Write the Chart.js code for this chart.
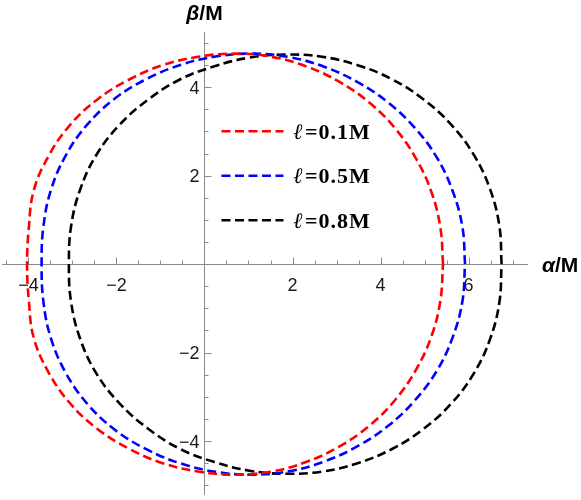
<!DOCTYPE html>
<html><head><meta charset="utf-8">
<script src="https://cdn.jsdelivr.net/npm/chart.js@4/dist/chart.umd.min.js"></script>
<style>html,body{margin:0;padding:0;background:#fff}#wrap{width:581px;height:500px;position:relative}</style>
</head><body><div id="wrap"><canvas id="c"></canvas></div>
<script>
// ---- data ----
const seriesLabels = ['\u2113=0.1M', '\u2113=0.5M', '\u2113=0.8M'];
const seriesColors = ['#ff0000', '#0000ff', '#000000'];

const redAlpha = [5.42,5.36,5.16,4.81,4.34,3.75,3.07,2.32,1.52,0.69,-0.14,-0.95,-1.72,-2.44,-3.06,-3.54,-3.88,-3.99,-4.03,
                  -3.99,-3.88,-3.54,-3.06,-2.44,-1.72,-0.95,-0.14,0.69,1.52,2.32,3.07,3.75,4.34,4.81,5.16,5.36,5.42];
const redBeta  = [0.00,0.82,1.62,2.38,3.06,3.65,4.12,4.47,4.69,4.76,4.69,4.50,4.17,3.72,3.14,2.45,1.66,0.83,0.00,
                  -0.83,-1.66,-2.45,-3.14,-3.72,-4.17,-4.50,-4.69,-4.76,-4.69,-4.47,-4.12,-3.65,-3.06,-2.38,-1.62,-0.82,0.00];

const blueAlpha = [5.92,5.86,5.64,5.28,4.78,4.18,3.49,2.73,1.94,1.11,0.28,-0.53,-1.31,-2.03,-2.66,-3.15,-3.49,-3.66,-3.70,
                   -3.66,-3.49,-3.15,-2.66,-2.03,-1.31,-0.53,0.28,1.11,1.94,2.73,3.49,4.18,4.78,5.28,5.64,5.86,5.92];
const blueBeta  = [0.00,0.84,1.65,2.41,3.08,3.65,4.11,4.46,4.68,4.76,4.70,4.51,4.19,3.75,3.16,2.46,1.67,0.84,0.00,
                   -0.84,-1.67,-2.46,-3.16,-3.75,-4.19,-4.51,-4.70,-4.76,-4.68,-4.46,-4.11,-3.65,-3.08,-2.41,-1.65,-0.84,0.00];

const blackAlpha = [6.75,6.70,6.49,6.12,5.60,4.97,4.26,3.48,2.67,1.84,1.02,0.21,-0.57,-1.28,-1.92,-2.45,-2.82,-3.03,-3.08,
                    -3.03,-2.82,-2.45,-1.92,-1.28,-0.57,0.21,1.02,1.84,2.67,3.48,4.26,4.97,5.60,6.12,6.49,6.70,6.75];
const blackBeta  = [0.00,0.86,1.69,2.47,3.16,3.73,4.18,4.50,4.69,4.74,4.67,4.47,4.17,3.72,3.16,2.48,1.70,0.86,0.00,
                    -0.86,-1.70,-2.48,-3.16,-3.72,-4.17,-4.47,-4.67,-4.74,-4.69,-4.50,-4.18,-3.73,-3.16,-2.47,-1.69,-0.86,0.00];

const xTickLabels = [-4, -2, 2, 4, 6];
const yTickLabels = [-4, -2, 2, 4];
const xRange = [-4.6, 7.35];
const yRange = [-5.22, 5.25];

// ---- build ----
function pts(a, b) { return a.map((v, i) => ({ x: v, y: b[i] })); }
const allSeries = [pts(redAlpha, redBeta), pts(blueAlpha, blueBeta), pts(blackAlpha, blackBeta)];

const DASH = [9, 4.5];
const LW = 2.6;

function fmt(v) { return (v < 0 ? '\u2212' : '') + Math.abs(v); }

const axesPlugin = {
  id: 'mmaAxes',
  beforeDatasetsDraw(chart) {
    const { ctx, chartArea: ca, scales: { x, y } } = chart;
    const x0 = Math.round(x.getPixelForValue(0)) + 0.5;
    const y0 = Math.round(y.getPixelForValue(0)) + 0.5;
    ctx.save();
    ctx.strokeStyle = '#8a8a8a';
    ctx.lineWidth = 1;
    ctx.beginPath();
    ctx.moveTo(ca.left, y0); ctx.lineTo(ca.right, y0);
    ctx.moveTo(x0, ca.top); ctx.lineTo(x0, ca.bottom);
    ctx.stroke();
    ctx.beginPath();
    for (let v = Math.ceil(xRange[0] * 2) / 2; v <= xRange[1]; v += 0.5) {
      if (Math.abs(v) < 1e-9) continue;
      const px = Math.round(x.getPixelForValue(v)) + 0.5;
      const len = (Math.abs(v % 2) < 1e-9) ? 7 : 4;
      ctx.moveTo(px, y0); ctx.lineTo(px, y0 - len);
    }
    for (let v = Math.ceil(yRange[0] * 2) / 2; v <= yRange[1]; v += 0.5) {
      if (Math.abs(v) < 1e-9) continue;
      const py = Math.round(y.getPixelForValue(v)) + 0.5;
      const len = (Math.abs(v % 2) < 1e-9) ? 7 : 4;
      ctx.moveTo(x0, py); ctx.lineTo(x0 + len, py);
    }
    ctx.stroke();
    ctx.fillStyle = '#1a1a1a';
    ctx.font = '18px "Liberation Sans", Arial, sans-serif';
    ctx.textAlign = 'center';
    ctx.textBaseline = 'alphabetic';
    xTickLabels.forEach(v => ctx.fillText(fmt(v), x.getPixelForValue(v), y0 + 26));
    ctx.textAlign = 'right';
    yTickLabels.forEach(v => ctx.fillText(fmt(v), x0 - 5, y.getPixelForValue(v) + 6.5));
    ctx.fillStyle = '#000';
    ctx.textAlign = 'left';
    let ax = ca.right + 14, ay = y0 + 7.5;
    ctx.font = 'italic bold 21px "Liberation Sans", Arial, sans-serif';
    ctx.fillText('\u03b1', ax, ay);
    ax += ctx.measureText('\u03b1').width;
    ctx.font = 'bold 21px "Liberation Sans", Arial, sans-serif';
    ctx.fillText('/M', ax, ay);
    ctx.font = 'italic bold 21px "Liberation Sans", Arial, sans-serif';
    const wB = ctx.measureText('\u03b2').width;
    ctx.font = 'bold 21px "Liberation Sans", Arial, sans-serif';
    const wM = ctx.measureText('/M').width;
    let bx = x0 - (wB + wM) / 2, by = 20;
    ctx.font = 'italic bold 21px "Liberation Sans", Arial, sans-serif';
    ctx.fillText('\u03b2', bx, by);
    ctx.font = 'bold 21px "Liberation Sans", Arial, sans-serif';
    ctx.fillText('/M', bx + wB, by);
    ctx.restore();
  },
  afterDatasetsDraw(chart) {
    const { ctx } = chart;
    const x0 = chart.scales.x.getPixelForValue(0);
    const y4 = chart.scales.y.getPixelForValue(4);
    ctx.save();
    chart.data.datasets.forEach((ds, i) => {
      const ly = y4 + 44 + i * 44.5;
      ctx.strokeStyle = ds.borderColor;
      ctx.lineWidth = LW;
      ctx.setLineDash(DASH);
      ctx.beginPath();
      ctx.moveTo(x0 + 17, ly); ctx.lineTo(x0 + 79, ly);
      ctx.stroke();
      ctx.setLineDash([]);
      ctx.fillStyle = '#000';
      ctx.textAlign = 'left';
      ctx.textBaseline = 'alphabetic';
      try { ctx.letterSpacing = '1px'; } catch (e) {}
      const parts = ds.label.split('\u2113');
      let tx = x0 + 89;
      ctx.font = 'italic bold 22px "Liberation Serif", "DejaVu Serif", serif';
      ctx.fillText('\u2113', tx, ly + 7.5);
      tx += ctx.measureText('\u2113').width + 1;
      ctx.font = 'bold 22px "Liberation Serif", "DejaVu Serif", serif';
      ctx.fillText(parts[1], tx, ly + 7.5);
      try { ctx.letterSpacing = '0px'; } catch (e) {}
    });
    ctx.restore();
  }
};

new Chart(document.getElementById('c'), {
  type: 'scatter',
  data: {
    datasets: allSeries.map((d, i) => ({
      label: seriesLabels[i],
      data: d,
      showLine: true,
      borderColor: seriesColors[i],
      backgroundColor: seriesColors[i],
      borderWidth: LW,
      borderDash: DASH,
      pointRadius: 0,
      tension: 0.4,
      fill: false
    }))
  },
  options: {
    responsive: true,
    maintainAspectRatio: false,
    animation: false,
    layout: { padding: { left: 2, right: 53, top: 32, bottom: 5 } },
    scales: {
      x: { type: 'linear', min: xRange[0], max: xRange[1], display: false },
      y: { type: 'linear', min: yRange[0], max: yRange[1], display: false }
    },
    plugins: { legend: { display: false }, tooltip: { enabled: false } },
    elements: { line: { capBezierPoints: false } }
  },
  plugins: [axesPlugin]
});
</script>
</body></html>
